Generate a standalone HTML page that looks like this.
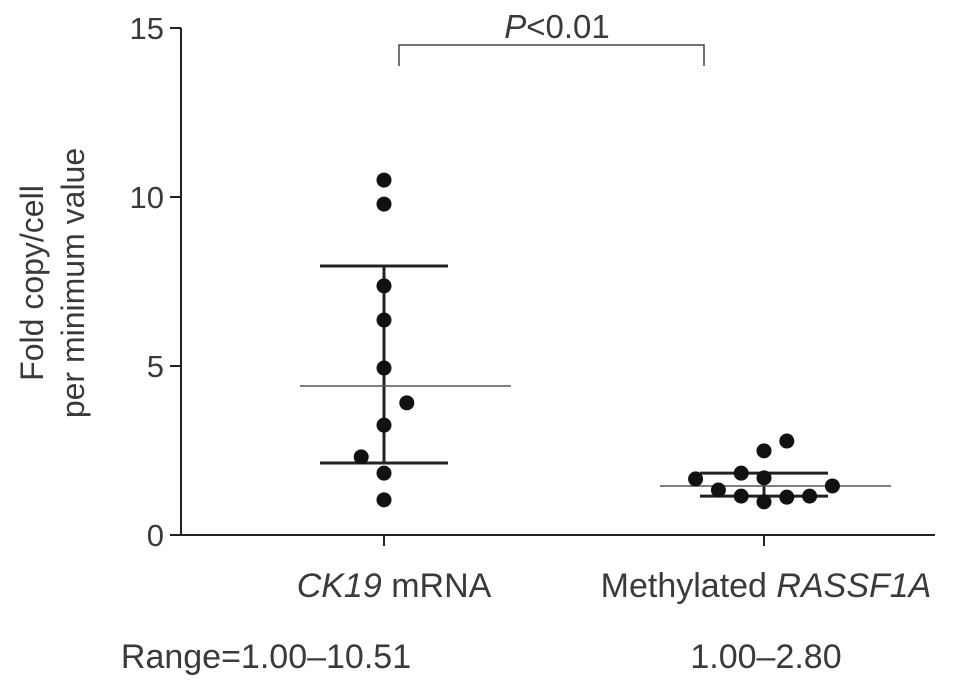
<!DOCTYPE html>
<html><head><meta charset="utf-8"><style>
body{margin:0;background:#fff}
svg text{font-family:"Liberation Sans",sans-serif;fill:#3a3a3a}
</style></head><body>
<svg width="969" height="682" style="display:block">
<g id="axes"></g><g id="marks"></g>
<g>
<polyline points="399,66 399,45 704,45 704,66" fill="none" stroke="#444" stroke-width="1.5"/>
</g>
<text x="557" y="38" text-anchor="middle" font-size="33"><tspan font-style="italic">P</tspan>&lt;0.01</text>
<g font-size="32">
<text transform="translate(43,283) rotate(-90)" text-anchor="middle">Fold copy/cell</text>
<text transform="translate(84,283) rotate(-90)" text-anchor="middle">per minimum value</text>
</g>
<text x="394" y="597" text-anchor="middle" font-size="34"><tspan font-style="italic">CK19</tspan> mRNA</text>
<text x="766" y="597" text-anchor="middle" font-size="34">Methylated <tspan font-style="italic">RASSF1A</tspan></text>
<text x="266" y="668" text-anchor="middle" font-size="34">Range=1.00–10.51</text>
<text x="766" y="668" text-anchor="middle" font-size="34">1.00–2.80</text>
</svg>
<script>
const categories=["CK19","RASSF1A"];
const ck19Values=[10.50,9.79,7.37,6.36,4.94,3.91,3.25,2.31,1.83,1.04];
const ck19Jitter=[0,0,0,0,0,0.12,0,-0.12,0,0];
const rassfValues=[1.66,1.83,2.49,2.78,1.69,1.33,1.15,0.98,1.12,1.15,1.45];
const rassfJitter=[-0.36,-0.12,0,0.12,0,-0.24,-0.12,0,0.12,0.24,0.36];
const means=[4.41,1.45];
const sdTop=[7.96,1.83];
const sdBottom=[2.13,1.15];
const yTicks=[0,5,10,15];
const NS="http://www.w3.org/2000/svg";
const y=v=>535-v*33.8;
const x=c=>384+c*380;
const axes=document.getElementById('axes'),marks=document.getElementById('marks');
function mk(tag,attrs,parent,text){const e=document.createElementNS(NS,tag);for(const k in attrs)e.setAttribute(k,attrs[k]);if(text!==undefined)e.textContent=text;parent.appendChild(e);return e;}
let ax=mk('line',{x1:181,x2:181,y1:y(15),y2:y(0),stroke:'#222','stroke-width':2},axes);


let xa=mk('line',{x1:180,x2:935,y1:y(0),y2:y(0),stroke:'#222','stroke-width':2},axes);


yTicks.forEach(t=>{
 let l=mk('line',{x1:170,x2:181,y1:y(t),y2:y(t),stroke:'#222','stroke-width':2},axes);
 
 
 let tx=mk('text',{x:164,y:y(t)+11,'text-anchor':'end','font-size':31},axes,String(t));
 
 
});
categories.forEach((c,i)=>{
 let l=mk('line',{x1:x(i),x2:x(i),y1:y(0),y2:y(0)+11,stroke:'#222','stroke-width':2},axes);
 
 
});
function series(vals,jit,ci){
 const cx=x(ci);
 const half=64;
 let v=mk('line',{x1:cx,x2:cx,y1:y(sdTop[ci]),y2:y(sdBottom[ci]),stroke:'#222','stroke-width':3},marks);
 
 
 [sdTop[ci],sdBottom[ci]].forEach(s=>{
  let b=mk('line',{x1:cx-half,x2:cx+half,y1:y(s),y2:y(s),stroke:'#222','stroke-width':3},marks);
  
  
 });
 let m=mk('line',{x1:cx-(ci===0?84:104),x2:cx+127,y1:y(means[ci]),y2:y(means[ci]),stroke:'#555','stroke-width':1.5},marks);
 
 
 vals.forEach((val,k)=>{
  let p=mk('circle',{cx:cx+jit[k]*190,cy:y(val),r:7.5,fill:'#111'},marks);
  
  
 });
}
series(ck19Values,ck19Jitter,0);
series(rassfValues,rassfJitter,1);
</script>
</body></html>
